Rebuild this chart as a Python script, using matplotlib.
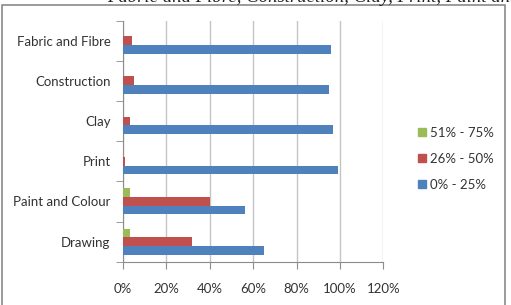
import numpy as np
import matplotlib
matplotlib.use('Agg')
import matplotlib.pyplot as plt
from matplotlib.patches import Rectangle
from matplotlib.lines import Line2D

plt.rcParams['font.family'] = ['Lato', 'DejaVu Sans']

categories = ['Drawing', 'Paint and Colour', 'Print', 'Clay', 'Construction', 'Fabric and Fibre']
series_names = ['0% - 25%', '26% - 50%', '51% - 75%']
low = [65, 56, 99, 97, 95, 96]      # 0% - 25%
mid = [32, 40, 1, 3, 5, 4]          # 26% - 50%
high = [3, 3, 0, 0, 0, 0]           # 51% - 75%
colors = ['#4F81BD', '#C0504D', '#9BBB59']
xticks = [0, 20, 40, 60, 80, 100, 120]
header = 'Fabric and Fibre, Construction, Clay, Print, Paint and Colour'

W, H = 511, 305
fig = plt.figure(figsize=(W / 100, H / 100), dpi=100)
fig.patch.set_facecolor('white')

# outer chart border (bottom runs off the image)
fig.patches.append(Rectangle((1.5 / W, -0.1), 503 / W, 1.1 - 4.5 / H,
                             transform=fig.transFigure, fill=False,
                             edgecolor='#8a8a8a', linewidth=1.2))

# clipped line of text from the page above the chart
fig.text(107 / W, 1 - 1.5 / H, header, fontsize=13.5, style='italic',
         family='Liberation Serif', va='baseline', ha='left', color='#222222')

ax = fig.add_axes([123 / W, 1 - 261.7 / H, 260.4 / W, 241.2 / H])

y = np.arange(len(categories))
h = 0.216
for vals, off, col, name in zip([low, mid, high], [-h, 0, h], colors, series_names):
    ax.barh(y + off, vals, height=h, color=col, label=name, zorder=3)

ax.set_xlim(0, 120)
ax.set_ylim(-0.5, len(categories) - 0.5)
ax.set_xticks(xticks)
ax.set_xticklabels([f'{v}%' for v in xticks], fontsize=9.5, color='#333333')
ax.set_yticks(y)
ax.set_yticklabels(categories, fontsize=9.5, color='#333333')
ax.set_yticks(np.arange(-0.5, len(categories), 1), minor=True)
ax.tick_params(axis='y', which='major', length=0, pad=9)
ax.tick_params(axis='y', which='minor', length=5, color='#8c8c8c')
ax.tick_params(axis='x', which='major', length=5, color='#8c8c8c', pad=10)

ax.grid(axis='x', color='#c4c4c4', linewidth=1, zorder=0)
for s in ['top', 'right']:
    ax.spines[s].set_visible(False)
for s in ['left', 'bottom']:
    ax.spines[s].set_color('#8c8c8c')

handles = [Line2D([], [], marker='s', linestyle='none', markersize=6,
                  color=c, label=n) for c, n in zip(colors, series_names)]
fig.legend(handles[::-1], series_names[::-1], loc='upper left',
           bbox_to_anchor=(406 / W, 1 - 115 / H), frameon=False,
           fontsize=9.5, handlelength=0.6, handletextpad=0.3,
           labelspacing=1.05, labelcolor='#333333')

fig.savefig('out.png', dpi=100)
